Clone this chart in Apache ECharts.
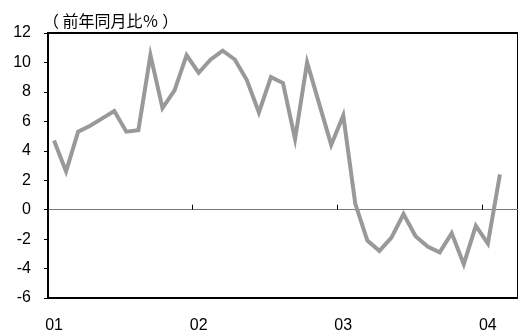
<!DOCTYPE html>
<html>
<head>
<meta charset="utf-8">
<script src="https://cdn.jsdelivr.net/npm/echarts@6/dist/echarts.min.js"></script>
<style>
    html, body { margin: 0; padding: 0; background: #fff; }
    #chartmain { width: 518px; height: 335px; }
</style>
</head>
<body>
<div id="chartmain"></div>
<script>
// 月次カテゴリ (2001/01 - 2004/03)
var months = [
    '2001-01', '2001-02', '2001-03', '2001-04', '2001-05', '2001-06',
    '2001-07', '2001-08', '2001-09', '2001-10', '2001-11', '2001-12',
    '2002-01', '2002-02', '2002-03', '2002-04', '2002-05', '2002-06',
    '2002-07', '2002-08', '2002-09', '2002-10', '2002-11', '2002-12',
    '2003-01', '2003-02', '2003-03', '2003-04', '2003-05', '2003-06',
    '2003-07', '2003-08', '2003-09', '2003-10', '2003-11', '2003-12',
    '2004-01', '2004-02', '2004-03'
];
var yearLabels = { '2001-01': '01', '2002-01': '02', '2003-01': '03', '2004-01': '04' };
var values = [
    4.7, 2.6, 5.3, 5.7, 6.2, 6.7, 5.3, 5.4, 10.5, 6.9, 8.1, 10.5,
    9.3, 10.2, 10.8, 10.2, 8.8, 6.6, 9.0, 8.6, 4.8, 10.0, 7.2, 4.4,
    6.4, 0.4, -2.1, -2.8, -1.9, -0.3, -1.8, -2.5, -2.9, -1.6, -3.7, -1.1,
    -2.3, 2.4
];
var yMin = -6, yMax = 12, yStep = 2;
var titleText = '（ 前年同月比％ ）';

function isJan(index, value) {
    return yearLabels.hasOwnProperty(value);
}

function drawChart() {
    var option = {
        animation: false,
        title: {
            text: titleText,
            left: 38,
            top: 8,
            textStyle: {
                fontFamily: 'Noto Sans CJK JP',
                fontSize: 16,
                fontWeight: 'normal',
                color: '#000'
            }
        },
        grid: {
            left: 48,
            top: 33,
            bottom: 37,
            right: -4,
            show: true,
            borderColor: '#000',
            borderWidth: 2
        },
        xAxis: [{
            type: 'category',
            data: months,
            boundaryGap: true,
            axisLine: { onZero: true, lineStyle: { color: '#777', width: 1 } },
            axisTick: { show: true, inside: true, length: 5, interval: isJan, lineStyle: { color: '#000' } },
            axisLabel: { show: false },
            splitLine: { show: false }
        }, {
            type: 'category',
            data: months,
            position: 'bottom',
            boundaryGap: true,
            axisLine: { show: false, onZero: false },
            axisTick: { show: false },
            axisLabel: {
                interval: isJan,
                formatter: function(v) { return yearLabels[v] || ''; },
                margin: 20,
                fontFamily: 'Liberation Sans',
                fontSize: 16,
                color: '#000'
            },
            splitLine: { show: false }
        }],
        yAxis: {
            type: 'value',
            min: yMin,
            max: yMax,
            interval: yStep,
            axisLine: { show: true, lineStyle: { color: '#000', width: 2 } },
            axisTick: { show: true, length: 4, lineStyle: { color: '#000' } },
            axisLabel: {
                margin: 17,
                fontFamily: 'Liberation Sans',
                fontSize: 16,
                color: '#000'
            },
            splitLine: { show: false }
        },
        series: [{
            type: 'line',
            data: values,
            xAxisIndex: 0,
            showSymbol: false,
            symbol: 'none',
            lineStyle: { color: '#999', width: 4, join: 'miter' }
        }]
    };
    var myChart = echarts.init(document.getElementById('chartmain'));
    myChart.setOption(option);
}

drawChart();
</script>
</body>
</html>
